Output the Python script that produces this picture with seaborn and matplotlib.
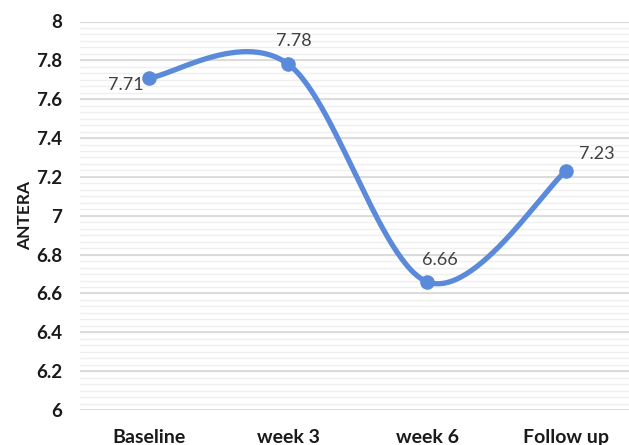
import numpy as np
import pandas as pd
import matplotlib
matplotlib.use("Agg")
import matplotlib.pyplot as plt
import seaborn as sns

# Data
categories = ["Baseline", "week 3", "week 6", "Follow up"]
antera = [7.71, 7.78, 6.66, 7.23]
y_ticks = [6, 6.2, 6.4, 6.6, 6.8, 7, 7.2, 7.4, 7.6, 7.8, 8]
y_tick_labels = ["6", "6.2", "6.4", "6.6", "6.8", "7", "7.2", "7.4", "7.6", "7.8", "8"]

sns.set_theme(style="white")
plt.rcParams["font.family"] = ["Lato", "DejaVu Sans"]

LINE_COLOR = "#5B8ADB"
TEXT_COLOR = "#404040"


def smooth_curve(xs, ys, steps=60):
    """Bezier smoothing through the points (Catmull-Rom style control points)."""
    pts = np.column_stack([xs, ys]).astype(float)
    n = len(pts)
    out = []
    for i in range(n - 1):
        p_prev = pts[i - 1] if i > 0 else pts[i]
        p0 = pts[i]
        p1 = pts[i + 1]
        p_next = pts[i + 2] if i + 2 < n else pts[i + 1]
        c1 = p0 + (p1 - p_prev) / 6.0
        c2 = p1 - (p_next - p0) / 6.0
        t = np.linspace(0, 1, steps)[:, None]
        seg = ((1 - t) ** 3) * p0 + 3 * t * (1 - t) ** 2 * c1 + 3 * t ** 2 * (1 - t) * c2 + t ** 3 * p1
        out.append(seg if i == 0 else seg[1:])
    out = np.vstack(out)
    return out[:, 0], out[:, 1]


xpos = np.arange(len(categories))
df_pts = pd.DataFrame({"x": xpos, "ANTERA": antera})
sx, sy = smooth_curve(xpos, antera)
df_curve = pd.DataFrame({"x": sx, "ANTERA": sy})

fig = plt.figure(figsize=(6.29, 4.45), dpi=100)
ax = fig.add_axes([80 / 629, 35 / 445, 555.5 / 629, 388.5 / 445])

# Gridlines: major every 0.2, lighter minor lines in between
minor = np.arange(6, 8.0001, 0.2 / 6)
for v in minor:
    ax.axhline(v, color="#EFEFEF", lw=1.0, zorder=0)
for v in y_ticks:
    ax.axhline(v, color="#D9D9D9", lw=1.3, zorder=0)

sns.lineplot(data=df_curve, x="x", y="ANTERA", sort=False, estimator=None,
             color=LINE_COLOR, lw=3.8, ax=ax, zorder=3)
sns.scatterplot(data=df_pts, x="x", y="ANTERA", color=LINE_COLOR, s=110,
                edgecolor=LINE_COLOR, linewidth=0, ax=ax, zorder=4)

# Data labels
offsets = [(-17, -5), (4, 17), (9, 16), (22, 12)]
for xi, v, off in zip(xpos, antera, offsets):
    ax.annotate(f"{v:.2f}", (xi, v), xytext=off, textcoords="offset points",
                ha="center", va="center", fontsize=13, color=TEXT_COLOR)

ax.set_xlim(-0.5, 3.5)
ax.set_ylim(6, 8)
ax.set_yticks(y_ticks)
ax.set_yticklabels(y_tick_labels, fontsize=13.5, fontweight="bold", color="#1a1a1a")
ax.set_xticks(xpos)
ax.set_xticklabels(categories, fontsize=14, fontweight="bold", color="#1a1a1a")
ax.tick_params(axis="y", length=0, pad=13)
ax.tick_params(axis="x", length=0, pad=14)
ax.set_xlabel("")
ax.set_ylabel("ANTERA", fontsize=12.5, fontweight="bold", color="#1a1a1a")
ax.yaxis.set_label_coords(-0.084, 0.5)
for s in ax.spines.values():
    s.set_visible(False)

fig.savefig("out.png", dpi=100)
